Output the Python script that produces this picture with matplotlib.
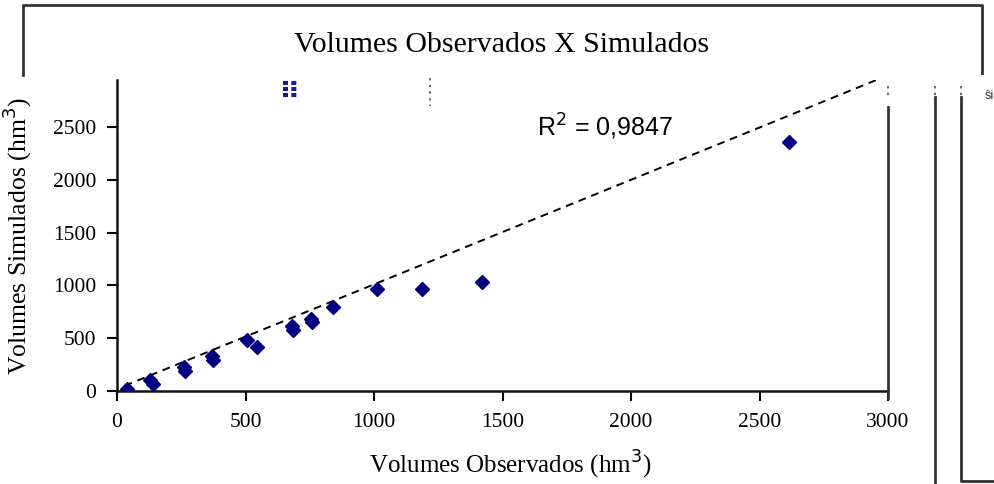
import matplotlib
matplotlib.use("Agg")
import matplotlib.pyplot as plt
from matplotlib.lines import Line2D
import numpy as np

# Observed vs simulated reservoir volumes (hm3)
observados = [40, 130, 140, 260, 265, 370, 375, 505, 545, 680, 685, 755, 760, 840, 1010, 1185, 1420, 2615]
simulados = [15, 100, 70, 225, 190, 330, 290, 480, 420, 620, 580, 680, 650, 795, 965, 965, 1030, 2360]

# Linear trend line shown on the chart
trend_x = [30, 2980]
trend_slope = 0.99
trend_intercept = 20
r2_text = "R$^2$ = 0,9847"

x_ticks = [0, 500, 1000, 1500, 2000, 2500, 3000]
y_ticks = [0, 500, 1000, 1500, 2000, 2500]

W, H = 995, 484
fig = plt.figure(figsize=(W / 100, H / 100), dpi=100)
fig.patch.set_facecolor("white")

serif = "Liberation Serif"
sans = "Liberation Sans"


def fx(px):
    return px / W


def fy(py):
    return 1 - py / H


ax = fig.add_axes([fx(117), fy(391), fx(888) - fx(117), fy(80) - fy(391)])
ax.set_facecolor("none")
ax.set_xlim(0, 3000)
ax.set_ylim(0, 2945)

tx = np.array(trend_x, dtype=float)
ax.plot(tx, trend_slope * tx + trend_intercept, color="black", lw=1.4,
        dashes=(4, 3), zorder=2)
ax.plot(observados, simulados, linestyle="none", marker="D", markersize=7.5,
        color="#000080", markeredgecolor="#000080", zorder=3)

ax.set_xticks(x_ticks)
ax.set_yticks(y_ticks)
ax.set_xticklabels([str(v) for v in x_ticks], fontfamily=serif, fontsize=15.5)
ax.set_yticklabels([str(v) for v in y_ticks], fontfamily=serif, fontsize=15.5)
ax.tick_params(axis="both", direction="out", length=7, width=1.5, color="black")
ax.tick_params(axis="x", pad=9)
ax.tick_params(axis="y", pad=8)
for side in ("top", "right"):
    ax.spines[side].set_visible(False)
for side in ("left", "bottom"):
    ax.spines[side].set_linewidth(1.8)
    ax.spines[side].set_color("#111111")

# Titles and axis labels
fig.text(fx(502), fy(45), "Volumes Observados X Simulados", fontfamily=serif,
         fontsize=21.5, ha="center", va="center")
fig.text(fx(510), fy(465), "Volumes Observados (hm$^3$)", fontfamily=serif,
         fontsize=18, ha="center", va="center")
fig.text(fx(17), fy(236), "Volumes Simulados (hm$^3$)", fontfamily=serif,
         fontsize=18.5, ha="center", va="center", rotation=90)
fig.text(fx(537), fy(127), r2_text, fontfamily=sans, fontsize=18,
         ha="left", va="center")

# Frame and side borders around the chart
frame_kw = dict(color="#333333", lw=2, transform=fig.transFigure)
fig.add_artist(Line2D([fx(23), fx(23), fx(982), fx(982)],
                      [fy(75), fy(5), fy(5), fy(73)], **frame_kw))
fig.add_artist(Line2D([fx(888), fx(888)], [fy(107), fy(398)], **frame_kw))
fig.add_artist(Line2D([fx(935), fx(935)], [fy(97), fy(484)], **frame_kw))
fig.add_artist(Line2D([fx(961), fx(961), fx(995)], [fy(97), fy(481), fy(481)], **frame_kw))
dot_kw = dict(color="#555555", lw=1.2, dashes=(1.5, 2.5), transform=fig.transFigure)
for px in (888, 935, 961):
    fig.add_artist(Line2D([fx(px), fx(px)], [fy(86), fy(96)], **dot_kw))

# Small marks along the top edge of the plot area
fig.add_artist(Line2D([fx(430), fx(430)], [fy(78), fy(106)], **dot_kw))
for py in (83, 89, 95):
    fig.add_artist(Line2D([fx(283), fx(297)], [fy(py), fy(py)], color="#1a1a80",
                          lw=3, dashes=(1.2, 0.8), transform=fig.transFigure))
fig.text(fx(985), fy(96), "ŝi", fontfamily=sans, fontsize=9, ha="left", va="center",
         color="#333333")

fig.savefig("out.png", dpi=100, facecolor="white")
